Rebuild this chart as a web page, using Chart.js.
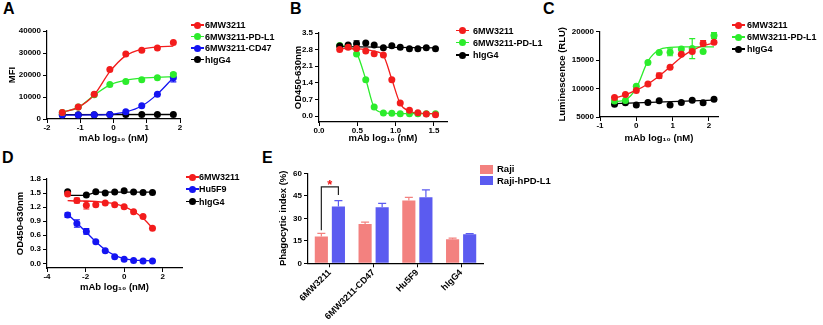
<!DOCTYPE html>
<html><head><meta charset="utf-8">
<script src="https://cdn.jsdelivr.net/npm/chart.js@4.4.0/dist/chart.umd.min.js"></script>
<style>
html,body{margin:0;padding:0;background:#fff;}
body{width:823px;height:325px;position:relative;overflow:hidden;font-family:"Liberation Sans",Arial,Helvetica,sans-serif;}
canvas{position:absolute;}
.letter{position:absolute;font-weight:bold;font-size:16px;line-height:16px;color:#000;}
.lg{position:absolute;font-weight:bold;font-size:9px;line-height:12px;height:12px;color:#000;white-space:nowrap;}
.lgE{position:absolute;font-weight:bold;font-size:9.5px;line-height:12px;height:12px;color:#000;white-space:nowrap;}
.mk{position:absolute;}
</style></head><body>
<div class="letter" style="left:3px;top:1px">A</div>
<div class="letter" style="left:290px;top:1px">B</div>
<div class="letter" style="left:543px;top:1px">C</div>
<div class="letter" style="left:2px;top:150px">D</div>
<div class="letter" style="left:262px;top:150px">E</div>
<canvas id="cA" width="186" height="144" style="left:0px;top:0px"></canvas>
<canvas id="cB" width="182" height="144" style="left:270px;top:0px"></canvas>
<canvas id="cC" width="183" height="144" style="left:540px;top:0px"></canvas>
<canvas id="cD" width="186" height="153" style="left:0px;top:140px"></canvas>
<canvas id="cE" width="225" height="185" style="left:262px;top:140px"></canvas>
<script>
// ---------------- DATA ----------------
// Panel A
const aDose = [-1.54, -1.06, -0.58, -0.11, 0.37, 0.85, 1.32, 1.8];
const aSeries = ['6MW3211', '6MW3211-PD-L1', '6MW3211-CD47', 'hIgG4'];
const a6MW3211 = [3000, 5400, 11200, 22500, 29500, 31200, 32300, 34800];
const a6MW3211PDL1 = [3000, 5400, 11000, 15700, 17000, 17800, 18700, 20200];
const a6MW3211CD47 = [1800, 1800, 1900, 2100, 3300, 6000, 11200, 18800];
const aHIgG4 = [1900, 1900, 1900, 2000, 2000, 2000, 2100, 2100];
const aErrPDL1 = [0, 0, 0, 0, 0, 0, 0, 700];
const aErrCD47 = [0, 0, 0, 0, 0, 0, 0, 1900];
const aFit6MW3211 = [3000, 5300, 11000, 21500, 28800, 31800, 32800, 33100];
const aFitPDL1 = [3000, 5300, 10800, 15500, 17600, 18600, 19000, 19200];
const aFitCD47 = [1800, 1800, 1850, 2100, 3200, 5900, 11300, 18800];
const aFitHIgG4X = [-1.54, 1.8];
const aFitHIgG4 = [2000, 2050];
const aTicksX = [-2, -1, 0, 1, 2];
const aTicksY = [0, 10000, 20000, 30000, 40000];

// Panel B
const bDose = [0.27, 0.38, 0.49, 0.61, 0.72, 0.84, 0.95, 1.06, 1.18, 1.29, 1.40, 1.52];
const bSeries = ['6MW3211', '6MW3211-PD-L1', 'hIgG4'];
const b6MW3211 = [2.80, 2.90, 2.85, 2.74, 2.63, 2.57, 1.53, 0.55, 0.24, 0.14, 0.09, 0.06];
const b6MW3211PDL1 = [2.97, 2.95, 2.62, 1.53, 0.38, 0.13, 0.12, 0.10, 0.10, 0.10, 0.10, 0.10];
const bHIgG4 = [2.95, 2.99, 3.05, 3.08, 2.99, 2.88, 2.96, 2.90, 2.84, 2.84, 2.88, 2.84];
const bErrHIgG4 = [0, 0, 0.12, 0, 0, 0, 0, 0, 0, 0, 0, 0];
const bFit6MW3211 = [2.85, 2.84, 2.83, 2.80, 2.73, 2.55, 1.55, 0.52, 0.20, 0.12, 0.10, 0.10];
const bFitPDL1 = [2.96, 2.92, 2.66, 1.55, 0.36, 0.14, 0.11, 0.10, 0.10, 0.10, 0.10, 0.10];
const bFitHIgG4X = [0.27, 1.52];
const bFitHIgG4 = [2.93, 2.87];
const bTicksX = [0, 0.5, 1.0, 1.5];
const bTicksY = [0, 0.7, 1.4, 2.1, 2.8, 3.5];

// Panel C
const cDose = [-0.6, -0.3, 0.0, 0.32, 0.63, 0.93, 1.24, 1.54, 1.84, 2.14];
const cSeries = ['6MW3211', '6MW3211-PD-L1', 'hIgG4'];
const c6MW3211 = [8400, 8950, 9650, 10800, 12250, 13750, 16000, 16500, 17900, 18100];
const c6MW3211PDL1 = [7800, 7900, 10400, 14550, 16300, 16350, 16950, 17000, 16500, 19300];
const cHIgG4 = [7250, 7500, 7100, 7550, 7850, 7100, 7550, 7950, 7500, 8100];
const cErr6MW3211 = [0, 0, 0, 0, 450, 0, 0, 0, 500, 0];
const cErrPDL1 = [0, 0, 0, 0, 0, 600, 0, 1750, 0, 500];
const cFit6MW3211 = [8300, 8900, 9700, 10800, 12200, 13800, 15500, 16700, 17500, 18000];
const cFitPDL1 = [7700, 8000, 10100, 14800, 16800, 17200, 17300, 17300, 17300, 17300];
const cFitHIgG4X = [-0.6, 2.14];
const cFitHIgG4 = [7350, 7950];
const cTicksX = [-1, 0, 1, 2];
const cTicksY = [5000, 10000, 15000, 20000];

// Panel D
const dDose = [-2.93, -2.45, -1.96, -1.47, -0.98, -0.49, 0.0, 0.49, 0.98, 1.47];
const dSeries = ['6MW3211', 'Hu5F9', 'hIgG4'];
const d6MW3211 = [1.48, 1.34, 1.24, 1.25, 1.29, 1.25, 1.21, 1.10, 1.00, 0.75];
const dHu5F9 = [1.03, 0.85, 0.68, 0.46, 0.27, 0.14, 0.085, 0.06, 0.05, 0.05];
const dHIgG4 = [1.53, null, 1.46, 1.53, 1.50, 1.52, 1.55, 1.52, 1.51, 1.51];
const dErr6MW3211 = [0, 0.05, 0.08, 0, 0, 0, 0, 0, 0, 0];
const dErrHu5F9 = [0.05, 0.08, 0.06, 0, 0, 0, 0, 0, 0, 0];
const dFit6MW3211 = [1.34, 1.33, 1.33, 1.32, 1.30, 1.27, 1.21, 1.11, 0.96, 0.75];
const dFitHu5F9 = [1.05, 0.86, 0.66, 0.46, 0.29, 0.17, 0.10, 0.07, 0.06, 0.05];
const dFitHIgG4X = [-2.93, -1.96, -1.47, 1.47];
const dFitHIgG4 = [1.45, 1.45, 1.52, 1.52];
const dTicksX = [-4, -2, 0, 2];
const dTicksY = [0, 0.3, 0.6, 0.9, 1.2, 1.5, 1.8];

// Panel E
const eCategories = ['6MW3211', '6MW3211-CD47', 'Hu5F9', 'hIgG4'];
const eSeries = ['Raji', 'Raji-hPD-L1'];
const eRaji = [17.8, 26.2, 41.8, 16.0];
const eRajiErr = [2.2, 1.3, 2.2, 0.8];
const eRajiPDL1 = [37.8, 37.3, 44.0, 19.3];
const eRajiPDL1Err = [4.0, 2.7, 5.0, 0.5];
const eTicksY = [0, 15, 30, 45, 60];
const eBracket = {category: 0, leftY: 22, topY: 51, rightY: 45.5, starBaseY: 49.4};

// ---------------- STYLE ----------------
const RED = '#f31c1c', GREEN = '#2cec2c', BLUE = '#1414f2', BLACK = '#000000';
const E_RAJI = '#f3817f', E_PDL1 = '#5b5bf0';
Chart.defaults.font.family = '"Liberation Sans", Arial, Helvetica, sans-serif';
Chart.defaults.color = '#000';
const TICK_FONT = {size: 8, weight: 'bold'};
const E_TICK_FONT = {size: 9, weight: 'bold'};
const TITLE_FONT = {size: 9.5, weight: 'bold', lineHeight: 1.2};
const XTITLE = 'mAb log\u2081\u2080 (nM)';
const PT_R = 3.5;

const errorBars = {
  id: 'errorBars',
  beforeDatasetsDraw(chart) {
    const ctx = chart.ctx;
    chart.data.datasets.forEach((ds, di) => {
      if (!ds.errors) return;
      const meta = chart.getDatasetMeta(di);
      const ys = chart.scales[meta.yAxisID];
      ctx.save();
      ctx.strokeStyle = ds.errorColor || ds.backgroundColor;
      ctx.lineWidth = 1.2;
      meta.data.forEach((el, i) => {
        const e = ds.errors[i];
        const raw = ds.data[i];
        const v = (raw && typeof raw === 'object') ? raw.y : raw;
        if (!e || v === null || v === undefined) return;
        const x = el.x;
        const yTop = ys.getPixelForValue(v + e);
        const yBot = ds.errorUpOnly ? ys.getPixelForValue(v) : ys.getPixelForValue(v - e);
        const cap = ds.errorCap || 3;
        ctx.beginPath();
        ctx.moveTo(x, yTop); ctx.lineTo(x, yBot);
        ctx.moveTo(x - cap, yTop); ctx.lineTo(x + cap, yTop);
        if (!ds.errorUpOnly) { ctx.moveTo(x - cap, yBot); ctx.lineTo(x + cap, yBot); }
        ctx.stroke();
      });
      ctx.restore();
    });
  }
};

function linAxis(o) {
  return {
    type: 'linear', min: o.min, max: o.max,
    afterBuildTicks: s => { s.ticks = o.ticks.map(v => ({value: v})); },
    afterFit: s => { if (o.isX) s.height = o.size; else s.width = o.size; },
    ticks: {font: TICK_FONT, color: '#000', padding: o.isX ? 0 : 2, autoSkip: false, maxRotation: 0, minRotation: 0,
            callback: v => o.fmt(v)},
    grid: {drawOnChartArea: false, drawTicks: true, tickLength: 4, color: '#000', lineWidth: 1},
    border: {display: true, color: '#000', width: 1.2},
    title: {display: !!o.title, text: o.title, font: TITLE_FONT, color: '#000',
            padding: o.isX ? {top: 0, bottom: 0} : {top: o.titlePad, bottom: 0}}
  };
}

function scatterPanel(id, xs, series, fits, pad, xAxis, yAxis) {
  const datasets = [];
  series.forEach(s => datasets.push({
    data: xs.map((x, i) => ({x: x, y: s.y[i]})),
    showLine: false, pointRadius: PT_R, pointHoverRadius: PT_R, pointBorderWidth: 0,
    backgroundColor: s.color, borderColor: s.color, borderWidth: 0,
    errors: s.err, errorColor: s.color, clip: false
  }));
  fits.forEach(f => datasets.push({
    data: f.x.map((x, i) => ({x: x, y: f.y[i]})),
    showLine: true, pointRadius: 0, pointHoverRadius: 0,
    borderColor: f.color, backgroundColor: f.color, borderWidth: 1.3,
    cubicInterpolationMode: f.straight ? 'default' : 'monotone', tension: 0, clip: false
  }));
  new Chart(document.getElementById(id), {
    type: 'scatter',
    data: {datasets},
    options: {
      responsive: false, animation: false, devicePixelRatio: 1,
      layout: {padding: pad},
      plugins: {legend: {display: false}, tooltip: {enabled: false}},
      scales: {x: xAxis, y: yAxis}
    },
    plugins: [errorBars]
  });
}

function scatterLegend(names, colors, mx, tx, rows) {
  names.forEach((n, i) => {
    const y = rows[i];
    const line = document.createElement('div');
    line.className = 'mk';
    line.style.cssText = `left:${mx - 6.5}px;top:${y - 0.75}px;width:13px;height:1.5px;background:${colors[i]}`;
    const dot = document.createElement('div');
    dot.className = 'mk';
    dot.style.cssText = `left:${mx - PT_R}px;top:${y - PT_R}px;width:${2 * PT_R}px;height:${2 * PT_R}px;border-radius:50%;background:${colors[i]}`;
    const t = document.createElement('div');
    t.className = 'lg';
    t.style.left = tx + 'px'; t.style.top = (y - 6) + 'px';
    t.textContent = n;
    document.body.appendChild(line); document.body.appendChild(dot); document.body.appendChild(t);
  });
}

const fmtInt = v => String(Math.round(v));
const fmt1 = v => v.toFixed(1);

// ---------------- A ----------------
scatterPanel('cA', aDose, [
  {y: a6MW3211, color: RED},
  {y: a6MW3211PDL1, color: GREEN, err: aErrPDL1},
  {y: a6MW3211CD47, color: BLUE, err: aErrCD47},
  {y: aHIgG4, color: BLACK}
], [
  {x: aDose, y: aFit6MW3211, color: RED},
  {x: aDose, y: aFitPDL1, color: GREEN},
  {x: aDose, y: aFitCD47, color: BLUE},
  {x: aFitHIgG4X, y: aFitHIgG4, color: BLACK, straight: true}
], {left: 0, top: 31, right: 6, bottom: 0},
  linAxis({isX: true, min: -2, max: 2, ticks: aTicksX, fmt: fmtInt, size: 25, title: XTITLE}),
  linAxis({min: 0, max: 40000, ticks: aTicksY, fmt: fmtInt, size: 47, title: 'MFI', titlePad: 7})
);
scatterLegend(aSeries, [RED, GREEN, BLUE, BLACK], 197, 205, [25, 36.5, 48, 59.5]);

// ---------------- B ----------------
scatterPanel('cB', bDose, [
  {y: b6MW3211, color: RED},
  {y: bHIgG4, color: BLACK, err: bErrHIgG4},
  {y: b6MW3211PDL1, color: GREEN}
], [
  {x: bDose, y: bFit6MW3211, color: RED},
  {x: bFitHIgG4X, y: bFitHIgG4, color: BLACK, straight: true},
  {x: bDose, y: bFitPDL1, color: GREEN}
], {left: 0, top: 33, right: 5, bottom: 0},
  linAxis({isX: true, min: 0, max: 1.67, ticks: bTicksX, fmt: fmt1, size: 22, title: XTITLE}),
  linAxis({min: -0.25, max: 3.5, ticks: bTicksY, fmt: fmt1, size: 49, title: 'OD450-630nm', titlePad: 23})
);
scatterLegend(bSeries, [RED, GREEN, BLACK], 462, 473, [30.5, 42.5, 55]);

// ---------------- C ----------------
scatterPanel('cC', cDose, [
  {y: c6MW3211, color: RED, err: cErr6MW3211},
  {y: c6MW3211PDL1, color: GREEN, err: cErrPDL1},
  {y: cHIgG4, color: BLACK}
], [
  {x: cDose, y: cFit6MW3211, color: RED},
  {x: cDose, y: cFitPDL1, color: GREEN},
  {x: cFitHIgG4X, y: cFitHIgG4, color: BLACK, straight: true}
], {left: 0, top: 31.5, right: 5, bottom: 0},
  linAxis({isX: true, min: -1, max: 2.25, ticks: cTicksX, fmt: fmtInt, size: 27, title: XTITLE}),
  linAxis({min: 5000, max: 20000, ticks: cTicksY, fmt: fmtInt, size: 60, title: 'Luminescence (RLU)', titlePad: 17})
);
scatterLegend(cSeries, [RED, GREEN, BLACK], 738, 747, [25, 37, 49]);

// ---------------- D ----------------
scatterPanel('cD', dDose, [
  {y: d6MW3211, color: RED, err: dErr6MW3211},
  {y: dHu5F9, color: BLUE, err: dErrHu5F9},
  {y: dHIgG4, color: BLACK}
], [
  {x: dDose, y: dFit6MW3211, color: RED},
  {x: dDose, y: dFitHu5F9, color: BLUE},
  {x: dFitHIgG4X, y: dFitHIgG4, color: BLACK, straight: true}
], {left: 0, top: 39, right: 4, bottom: 0},
  linAxis({isX: true, min: -4, max: 3, ticks: dTicksX, fmt: fmtInt, size: 25, title: XTITLE}),
  linAxis({min: -0.1, max: 1.8, ticks: dTicksY, fmt: fmt1, size: 47, title: 'OD450-630nm', titlePad: 15})
);
scatterLegend(dSeries, [RED, BLUE, BLACK], 192, 199, [177, 189, 201.5]);

// ---------------- E ----------------
const bracketPlugin = {
  id: 'bracket',
  afterDatasetsDraw(chart) {
    const ctx = chart.ctx, ys = chart.scales.y;
    const x1 = chart.getDatasetMeta(0).data[eBracket.category].x;
    const x2 = chart.getDatasetMeta(1).data[eBracket.category].x;
    const yT = ys.getPixelForValue(eBracket.topY);
    ctx.save();
    ctx.strokeStyle = '#222'; ctx.lineWidth = 1.2;
    ctx.beginPath();
    ctx.moveTo(x1, ys.getPixelForValue(eBracket.leftY));
    ctx.lineTo(x1, yT); ctx.lineTo(x2, yT);
    ctx.lineTo(x2, ys.getPixelForValue(eBracket.rightY));
    ctx.stroke();
    ctx.fillStyle = '#f01010';
    ctx.font = 'bold 13px "Liberation Sans", Arial, sans-serif';
    ctx.textAlign = 'center'; ctx.textBaseline = 'alphabetic';
    ctx.fillText('*', (x1 + x2) / 2, ys.getPixelForValue(eBracket.starBaseY));
    ctx.restore();
  }
};
new Chart(document.getElementById('cE'), {
  type: 'bar',
  data: {labels: eCategories, datasets: [
    {label: eSeries[0], data: eRaji, errors: eRajiErr, errorUpOnly: true, errorCap: 4, errorColor: E_RAJI,
     backgroundColor: E_RAJI, borderWidth: 0, barPercentage: 0.77, categoryPercentage: 0.78},
    {label: eSeries[1], data: eRajiPDL1, errors: eRajiPDL1Err, errorUpOnly: true, errorCap: 4, errorColor: E_PDL1,
     backgroundColor: E_PDL1, borderWidth: 0, barPercentage: 0.77, categoryPercentage: 0.78}
  ]},
  options: {
    responsive: false, animation: false, devicePixelRatio: 1,
    layout: {padding: {left: 0, top: 33.3, right: 4, bottom: 0}},
    plugins: {legend: {display: false}, tooltip: {enabled: false}},
    scales: {
      x: {type: 'category', offset: true,
          afterFit: s => { s.height = 61.7; },
          ticks: {font: E_TICK_FONT, color: '#000', padding: 0, autoSkip: false, minRotation: 45, maxRotation: 45},
          grid: {offset: false, drawOnChartArea: false, drawTicks: true, tickLength: 4, color: '#000', lineWidth: 1},
          border: {display: true, color: '#000', width: 1.2}},
      y: linAxis({min: 0, max: 60, ticks: eTicksY, fmt: fmtInt, size: 46, title: 'Phagocytic index (%)', titlePad: 16})
    }
  },
  plugins: [errorBars, bracketPlugin]
});
// E legend
[E_RAJI, E_PDL1].forEach((c, i) => {
  const y = [169, 180.5][i];
  const sq = document.createElement('div');
  sq.className = 'mk';
  sq.style.cssText = `left:480px;top:${y - 4.5}px;width:13px;height:9px;background:${c}`;
  const t = document.createElement('div');
  t.className = 'lgE';
  t.style.left = '497px'; t.style.top = (y - 6) + 'px';
  t.textContent = eSeries[i];
  document.body.appendChild(sq); document.body.appendChild(t);
});
</script>
</body></html>
